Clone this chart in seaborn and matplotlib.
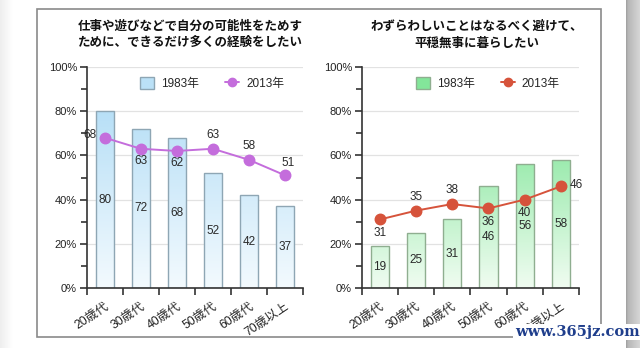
import numpy as np
import pandas as pd
import matplotlib
matplotlib.use("Agg")
import matplotlib.pyplot as plt
import seaborn as sns
from matplotlib.colors import LinearSegmentedColormap
from matplotlib.patches import Rectangle, Patch
from matplotlib.lines import Line2D
from matplotlib.ticker import MultipleLocator, FixedLocator
import matplotlib.transforms as mtransforms

sns.set_theme(style="white")
plt.rcParams['font.family'] = ['Liberation Sans', 'Noto Sans CJK JP', 'DejaVu Sans']

# ---- data ----
ages = ["20歳代", "30歳代", "40歳代", "50歳代", "60歳代", "70歳以上"]
exp_1983 = [80, 72, 68, 52, 42, 37]
exp_2013 = [68, 63, 62, 63, 58, 51]
calm_1983 = [19, 25, 31, 46, 56, 58]
calm_2013 = [31, 35, 38, 36, 40, 46]
yticks = [0, 20, 40, 60, 80, 100]
titles = ["仕事や遊びなどで自分の可能性をためす\nために、できるだけ多くの経験をしたい",
          "わずらわしいことはなるべく避けて、\n平穏無事に暮らしたい"]
legend_labels = ["1983年", "2013年"]

# label offsets (points) for the 2013 series values
exp_off = [(-11, 2), (0, -9), (0, -9), (0, 10), (0, 10), (2, 9)]
calm_off = [(0, -10), (0, 10), (0, 10), (0, -10), (0, -10), (11, 1)]

W, H = 640, 348
fig = plt.figure(figsize=(W / 100, H / 100), dpi=100)
fig.patch.set_facecolor("white")

# page shading on both sides
bg = fig.add_axes([0, 0, 1, 1], zorder=-10)
bg.set_xlim(0, W)
bg.set_ylim(H, 0)
bg.axis("off")
lg = np.linspace(0.93, 1.0, 50)[None, :]
bg.imshow(lg, extent=(0, 13, H, 0), cmap="gray", vmin=0, vmax=1, aspect="auto")
rg = np.concatenate([np.linspace(0.62, 0.72, 8), np.linspace(0.72, 0.84, 40)])[None, :]
bg.imshow(rg, extent=(626, W, H, 0), cmap="gray", vmin=0, vmax=1, aspect="auto")
bg.add_patch(Rectangle((37, 9), 564, 328, fill=False, edgecolor="#8a8a8a", lw=1.2))
bg.set_xlim(0, W)
bg.set_ylim(H, 0)


def panel(left_px, right_px, vals83, vals13, offs, top_col, bot_col, edge_col,
          line_col, title, title_cx):
    ax = fig.add_axes([left_px / W, 1 - 288 / H, (right_px - left_px) / W, (288 - 67) / H])
    ax.set_facecolor("none")
    df = pd.DataFrame({"age": ages, "v83": vals83, "v13": vals13})
    sns.barplot(data=df, x="age", y="v83", width=0.5, color=top_col,
                edgecolor=edge_col, linewidth=1.0, ax=ax, zorder=2)
    cmap = LinearSegmentedColormap.from_list("g", [bot_col, top_col])
    grad = np.linspace(0, 1, 256)[:, None]
    for p in list(ax.patches):
        x0, w = p.get_x(), p.get_width()
        im = ax.imshow(grad, extent=(x0, x0 + w, 0, 100), origin="lower",
                       aspect="auto", cmap=cmap, zorder=1.9)
        im.set_clip_path(p)
        p.set_facecolor("none")
    sns.pointplot(data=df, x="age", y="v13", color=line_col, markers="o",
                  markersize=7.5, linewidth=1.4, errorbar=None, ax=ax)
    for i, v in enumerate(vals83):
        ax.text(i, v / 2, str(v), ha="center", va="center", fontsize=8.5,
                color="#2a2a2a", zorder=5)
    for i, (v, (dx, dy)) in enumerate(zip(vals13, offs)):
        ax.annotate(str(v), (i, v), xytext=(dx, dy), textcoords="offset points",
                    ha="center", va="center", fontsize=8.5, color="#2a2a2a", zorder=6)
    ax.set_xlim(-0.5, 5.5)
    ax.set_ylim(0, 100)
    ax.set_xlabel("")
    ax.set_ylabel("")
    ax.set_yticks(yticks)
    ax.set_yticklabels([f"{t}%" for t in yticks], fontsize=8, color="#222")
    ax.yaxis.set_minor_locator(MultipleLocator(10))
    for t in yticks[1:]:
        ax.axhline(t, color="#e2e2e2", lw=0.9, zorder=0)
    ax.set_xticks(range(len(ages)))
    ax.set_xticklabels(ages, rotation=34, ha="right", va="top",
                       rotation_mode="anchor", fontsize=8.8, color="#222")
    off = mtransforms.ScaledTranslation(4.5 / 72, 0, fig.dpi_scale_trans)
    for lab in ax.get_xticklabels():
        lab.set_transform(lab.get_transform() + off)
    ax.xaxis.set_minor_locator(FixedLocator(np.arange(-0.5, 6, 1)))
    ax.tick_params(axis="x", which="major", length=0, pad=9)
    ax.tick_params(axis="x", which="minor", length=5, width=1.2, color="#333",
                   direction="out", bottom=True)
    ax.tick_params(axis="y", which="major", length=5, width=1.2, color="#333",
                   direction="out", left=True, pad=2)
    ax.tick_params(axis="y", which="minor", length=4, width=1.2, color="#333",
                   direction="out", left=True)
    for s in ["top", "right"]:
        ax.spines[s].set_visible(False)
    for s in ["left", "bottom"]:
        ax.spines[s].set_color("#333")
        ax.spines[s].set_linewidth(1.2)
    ax.grid(False)
    handles = [Patch(facecolor=cmap(0.75), edgecolor=edge_col, lw=1.0),
               Line2D([0], [0], color=line_col, marker="o", markersize=6, lw=1.4)]
    ax.legend(handles, legend_labels, ncol=2, frameon=False, loc="upper center",
              bbox_to_anchor=(0.58, 1.005), fontsize=8.5, handlelength=1.2,
              handleheight=1.2, handletextpad=0.6, columnspacing=2.2)
    fig.text(title_cx / W, 1 - 34.5 / H, title, ha="center", va="center",
             fontsize=9, fontweight="bold", linespacing=1.35,
             family=["Noto Sans CJK JP", "DejaVu Sans"], color="#111")
    return ax


panel(86.7, 303, exp_1983, exp_2013, exp_off, "#a9d9f5", "#f3fafe", "#8ea6b4",
      "#c46ddc", titles[0], 190)
panel(361.7, 579, calm_1983, calm_2013, calm_off, "#5fdf7e", "#f0fcf1", "#8fae90",
      "#d6533b", titles[1], 477)

fig.text(577 / W, 1 - 332 / H, "www.365jz.com", ha="center", va="center",
         fontsize=10.5, fontweight="bold", family="DejaVu Serif", color="#1f3e8c",
         bbox=dict(facecolor="white", edgecolor="none", pad=1))

fig.savefig("out.png", dpi=100)
